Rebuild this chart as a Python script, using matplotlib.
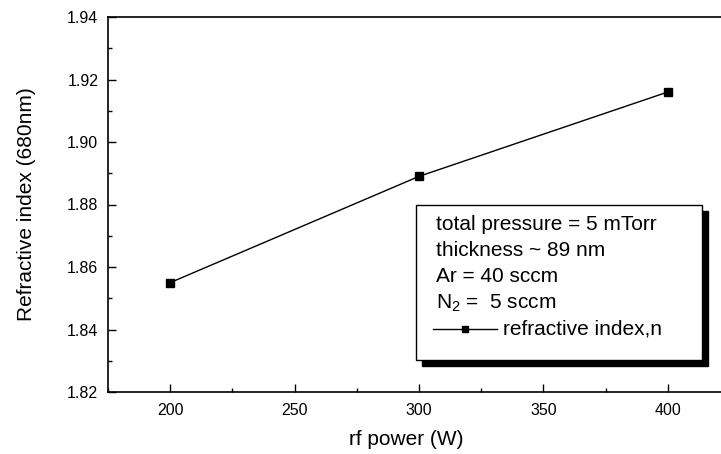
import matplotlib
matplotlib.use('Agg')
import matplotlib.pyplot as plt
from matplotlib.lines import Line2D
from matplotlib.patches import Rectangle
from matplotlib.ticker import MultipleLocator

# 데이터
rf_power = [200, 300, 400]
refr_index = [1.855, 1.889, 1.916]
legend_lines = ['total pressure = 5 mTorr', 'thickness ~ 89 nm', 'Ar = 40 sccm', r'N$_2$ =  5 sccm']
series_label = 'refractive index,n'

plt.rcParams['font.family'] = ['Liberation Sans', 'DejaVu Sans']
plt.rcParams['mathtext.default'] = 'regular'

W, H = 721, 454
fig = plt.figure(figsize=(W / 100, H / 100), dpi=100)
# 오른쪽은 그림 밖으로 잘림
ax = fig.add_axes([108 / W, 1 - 392 / H, (730 - 108) / W, (392 - 17) / H])

ax.plot(rf_power, refr_index, color='black', linewidth=1.0,
        marker='s', markersize=6, markerfacecolor='black', markeredgecolor='black')

ax.set_xlim(175, 425)
ax.set_ylim(1.82, 1.94)
ax.xaxis.set_major_locator(MultipleLocator(50))
ax.xaxis.set_minor_locator(MultipleLocator(25))
ax.yaxis.set_major_locator(MultipleLocator(0.02))
ax.yaxis.set_minor_locator(MultipleLocator(0.01))
ax.yaxis.set_major_formatter(matplotlib.ticker.FormatStrFormatter('%.2f'))
ax.tick_params(which='both', direction='in', top=False, right=False, width=1.0, labelsize=11.5)
ax.tick_params(which='major', length=6)
ax.tick_params(which='minor', length=3)
ax.tick_params(axis='x', pad=8)
ax.tick_params(axis='y', pad=7)
for s in ['left', 'bottom', 'top']:
    ax.spines[s].set_linewidth(1.2)
ax.spines['right'].set_visible(False)

ax.set_xlabel('rf power (W)', fontsize=15)
ax.set_ylabel('Refractive index (680nm)', fontsize=15)
ax.xaxis.set_label_coords((406 - 108) / 622, (392 - 430) / 375)
ax.yaxis.set_label_coords((36 - 108) / 622, 0.5)

# 범례 박스 (그림자 포함)
bx0, bx1, by0, by1 = 416, 702, 205, 360
fig.patches.append(Rectangle((bx0 / W + 6 / W, 1 - by1 / H - 6 / H), (bx1 - bx0) / W, (by1 - by0) / H,
                             transform=fig.transFigure, facecolor='black', edgecolor='black', zorder=5))
fig.patches.append(Rectangle((bx0 / W, 1 - by1 / H), (bx1 - bx0) / W, (by1 - by0) / H,
                             transform=fig.transFigure, facecolor='white', edgecolor='black',
                             linewidth=1.0, zorder=6))

ys = [225, 251, 277, 303]
for txt, y in zip(legend_lines, ys):
    fig.text(436 / W, 1 - y / H, txt, fontsize=15, va='center', ha='left', zorder=7)

yl = 1 - 329 / H
fig.lines.append(Line2D([433 / W, 497 / W], [yl, yl], transform=fig.transFigure, color='black',
                        linewidth=1.0, zorder=7))
fig.lines.append(Line2D([465 / W], [yl], transform=fig.transFigure, color='black', marker='s',
                        markersize=5, linestyle='none', zorder=8))
fig.text(503 / W, yl, series_label, fontsize=15, va='center', ha='left', zorder=7)

fig.savefig('out.png', dpi=100)
